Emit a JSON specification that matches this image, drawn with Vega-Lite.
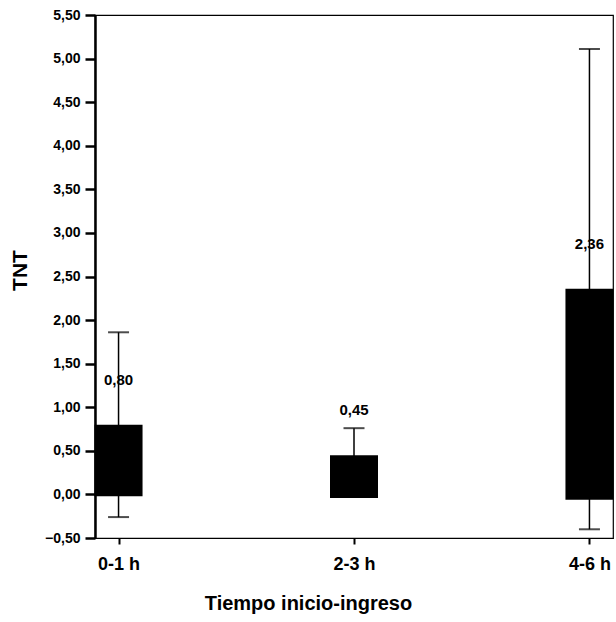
{
  "$schema": "https://vega.github.io/schema/vega-lite/v6.json",
  "autosize": "none",
  "width": 518,
  "height": 523,
  "padding": {"left": 95, "top": 15, "right": 3, "bottom": 84},
  "background": "white",
  "config": {
    "locale": {"number": {"decimal": ",", "thousands": ".", "grouping": [3], "currency": ["", " €"]}},
    "view": {"stroke": "black", "strokeWidth": 1.2},
    "font": "Liberation Sans"
  },
  "data": {"values": [
    {"grupo": "0-1 h", "media": 0.80, "base": -0.02, "bajo": -0.26, "alto": 1.86},
    {"grupo": "2-3 h", "media": 0.45, "base": -0.04, "bajo": 0.14, "alto": 0.76},
    {"grupo": "4-6 h", "media": 2.36, "base": -0.06, "bajo": -0.40, "alto": 5.11}
  ]},
  "encoding": {
    "x": {
      "field": "grupo", "type": "ordinal",
      "scale": {"type": "point", "padding": 0.1},
      "axis": {
        "title": "Tiempo inicio-ingreso", "labelAngle": 0,
        "labelFontSize": 18, "labelFontWeight": "bold", "labelColor": "black",
        "labelPadding": 11, "tickSize": 6, "tickWidth": 2, "tickColor": "black",
        "domainColor": "black", "domainWidth": 1.2,
        "titleFontSize": 20, "titleFontWeight": "bold", "titleColor": "black", "titlePadding": 20,
        "titleX": 213, "titleAlign": "center"
      }
    }
  },
  "layer": [
    {
      "mark": {"type": "rule", "color": "black", "strokeWidth": 1.5},
      "encoding": {
        "y": {"field": "bajo", "type": "quantitative",
          "scale": {"domain": [-0.5, 5.5], "nice": false, "zero": false},
          "axis": {
            "title": "TNT", "values": [-0.5, 0, 0.5, 1, 1.5, 2, 2.5, 3, 3.5, 4, 4.5, 5, 5.5],
            "format": ".2f", "grid": false,
            "labelFontSize": 14, "labelFontWeight": "bold", "labelColor": "black", "labelPadding": 5,
            "tickSize": 10, "tickWidth": 2.5, "tickColor": "black",
            "domainColor": "black", "domainWidth": 2.5,
            "titleFontSize": 21, "titleFontWeight": "bold", "titleColor": "black", "titlePadding": 14,
            "titleY": 255
          }
        },
        "y2": {"field": "alto"}
      }
    },
    {
      "mark": {"type": "tick", "color": "black", "orient": "horizontal", "size": 21, "thickness": 2},
      "encoding": {"y": {"field": "alto", "type": "quantitative"}}
    },
    {
      "mark": {"type": "tick", "color": "black", "orient": "horizontal", "size": 21, "thickness": 2},
      "encoding": {"y": {"field": "bajo", "type": "quantitative"}}
    },
    {
      "mark": {"type": "bar", "color": "black", "size": 48},
      "encoding": {
        "y": {"field": "media", "type": "quantitative"},
        "y2": {"field": "base"}
      }
    },
    {
      "mark": {"type": "text", "color": "black", "fontSize": 15, "fontWeight": "bold", "baseline": "middle", "dy": -45},
      "encoding": {
        "y": {"field": "media", "type": "quantitative"},
        "text": {"field": "media", "type": "quantitative", "format": ".2f"}
      }
    }
  ]
}
